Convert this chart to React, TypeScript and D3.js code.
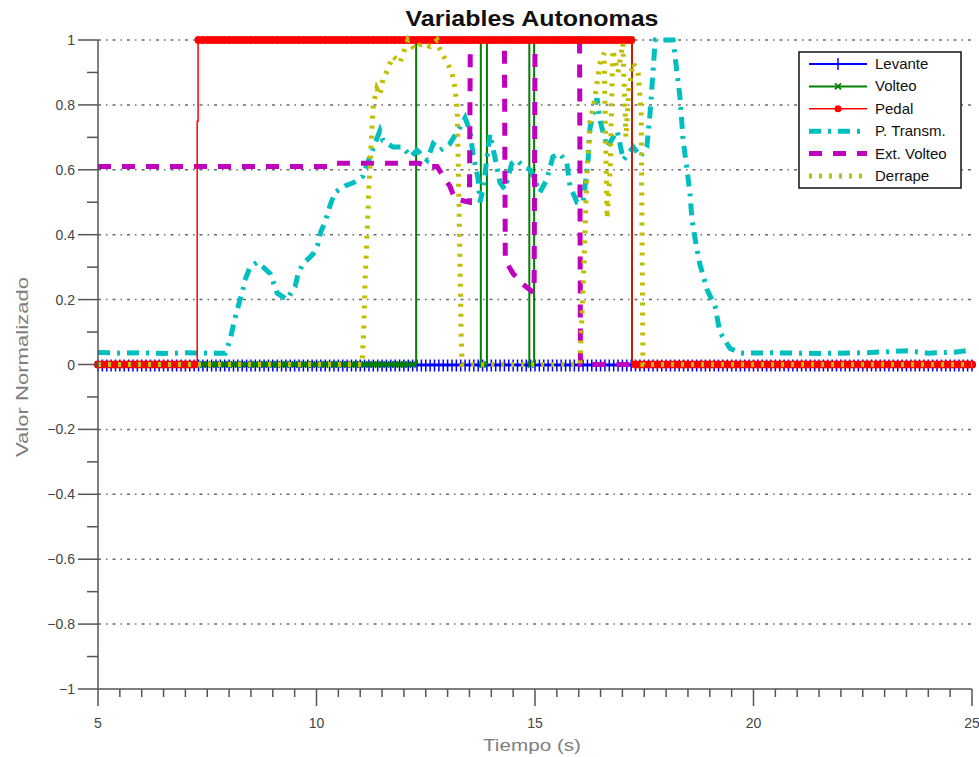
import * as d3 from "d3"
import React, { useRef, useEffect } from 'react';

// legend order = draw order of the original plot
const seriesNames = ["Levante", "Volteo", "Pedal", "P. Transm.", "Ext. Volteo", "Derrape"];
const seriesColors = ["#0000ff", "#008000", "#ff0000", "#00bfbf", "#bf00bf", "#bfbf00"];

// on/off signals: [tiempo, valor], the value holds until the next entry
const levanteSteps: [number, number][] = [[5, 0]];
const volteoSteps: [number, number][] = [[5, 0], [12.28, 1], [13.76, 0], [13.9, 1], [14.87, 0], [14.98, 1], [17.22, 0]];
const pedalSteps: [number, number][] = [[5, 0], [7.27, 0.75], [7.29, 1], [17.22, 0]];

// continuous signals: [tiempo, valor]
const transmData: [number, number][] = [
  [5, 0.037], [5.5, 0.035], [6, 0.036], [6.5, 0.034], [7, 0.036], [7.5, 0.035], [7.91, 0.035],
  [8.02, 0.075], [8.13, 0.14], [8.25, 0.2], [8.3, 0.22], [8.36, 0.26], [8.48, 0.3], [8.64, 0.315],
  [8.78, 0.3], [8.94, 0.28], [9.1, 0.22], [9.32, 0.2], [9.51, 0.24], [9.58, 0.28], [9.69, 0.31],
  [9.92, 0.34], [10.03, 0.37], [10.1, 0.41], [10.2, 0.44], [10.31, 0.49], [10.42, 0.53], [10.65, 0.55],
  [10.84, 0.56], [11.06, 0.58], [11.22, 0.64], [11.45, 0.72], [11.52, 0.69], [11.75, 0.67], [11.98, 0.67],
  [12.15, 0.64], [12.3, 0.66], [12.53, 0.63], [12.67, 0.68], [12.83, 0.66], [13.05, 0.68], [13.28, 0.73],
  [13.4, 0.76], [13.51, 0.72], [13.58, 0.65], [13.7, 0.57], [13.74, 0.5], [13.81, 0.54], [13.97, 0.71],
  [14.08, 0.64], [14.2, 0.56], [14.31, 0.54], [14.47, 0.62], [14.59, 0.63], [14.73, 0.61], [14.89, 0.6],
  [15.05, 0.55], [15.11, 0.53], [15.27, 0.57], [15.41, 0.64], [15.57, 0.65], [15.73, 0.62], [15.8, 0.55],
  [15.96, 0.5], [16.1, 0.5], [16.21, 0.62], [16.26, 0.73], [16.42, 0.82], [16.49, 0.75], [16.65, 0.67],
  [16.88, 0.72], [17.02, 0.63], [17.25, 0.67], [17.41, 0.64], [17.56, 0.67], [17.63, 0.77], [17.7, 0.9],
  [17.75, 1], [18.16, 1], [18.32, 0.82], [18.39, 0.69], [18.48, 0.6], [18.55, 0.52], [18.59, 0.45],
  [18.66, 0.39], [18.77, 0.31], [18.94, 0.23], [19.12, 0.18], [19.23, 0.1], [19.46, 0.05], [19.69, 0.035],
  [20.5, 0.036], [21.5, 0.034], [22.5, 0.036], [23.51, 0.042], [24, 0.035], [24.6, 0.038], [25, 0.045],
];

const extVolteoData: [number, number][] = [
  [5, 0.61], [10.3, 0.61], [10.4, 0.62], [12.35, 0.62], [12.5, 0.61], [12.76, 0.61], [12.9, 0.58],
  [13.05, 0.55], [13.17, 0.51], [13.5, 0.5], [13.52, 1], [14.3, 1], [14.32, 0.32], [14.5, 0.28],
  [14.7, 0.25], [14.98, 0.22], [15.0, 1], [16.02, 1], [16.04, 0], [25, 0],
];

const derrapeData: [number, number][] = [
  [5, 0], [11.04, 0], [11.08, 0.1], [11.11, 0.25], [11.16, 0.41], [11.2, 0.55], [11.25, 0.68],
  [11.3, 0.8], [11.38, 0.85], [11.45, 0.83], [11.52, 0.88], [11.6, 0.9], [11.75, 0.95], [11.91, 0.93],
  [12.09, 1], [12.25, 0.97], [12.41, 0.99], [12.6, 0.98], [12.76, 1], [12.83, 0.97], [12.99, 0.93],
  [13.1, 0.9], [13.17, 0.85], [13.22, 0.79], [13.26, 0.5], [13.31, 0.1], [13.33, 0], [16.03, 0],
  [16.12, 0.3], [16.19, 0.6], [16.26, 0.75], [16.37, 0.82], [16.49, 0.93], [16.58, 0.96], [16.65, 0.45],
  [16.72, 0.6], [16.78, 0.97], [16.9, 0.9], [17.01, 0.99], [17.08, 0.7], [17.15, 0.85], [17.24, 0.93],
  [17.36, 0.9], [17.43, 0.78], [17.47, 0], [25, 0],
];

const xTicks = [5, 10, 15, 20, 25];
const yTicks = [-1, -0.8, -0.6, -0.4, -0.2, 0, 0.2, 0.4, 0.6, 0.8, 1];

const FONT = "'Liberation Sans', Arial, sans-serif";

const App: React.FC = () => {
  const svgRef = useRef<SVGSVGElement | null>(null);

  useEffect(() => {
    const width = 979, height = 757;
    const l = 98, r = 972, t = 40, b = 689;

    const x = d3.scaleLinear().domain([5, 25]).range([l, r]);
    const y = d3.scaleLinear().domain([-1, 1]).range([b, t]);

    const svg = d3.select(svgRef.current).attr('width', width).attr('height', height);
    svg.selectAll('*').remove();
    svg.append('rect').attr('width', width).attr('height', height).attr('fill', '#fff');

    // grid
    svg.append('g').selectAll('line')
      .data(yTicks.filter(v => v > -1))
      .enter().append('line')
      .attr('x1', l).attr('x2', r)
      .attr('y1', d => y(d)).attr('y2', d => y(d))
      .attr('stroke', '#6a6a6a').attr('stroke-width', 1.5)
      .attr('stroke-dasharray', '3,5,1.5,5');

    // marker sample times (0.1 s)
    const sampleT = d3.range(0, 201).map(i => 5 + i * 0.1);
    const stepAt = (steps: [number, number][], tt: number) => {
      let v = steps[0][1];
      for (const s of steps) if (s[0] <= tt + 1e-6) v = s[1];
      return v;
    };
    const stepLine = d3.line<[number, number]>().x(d => x(d[0])).y(d => y(d[1])).curve(d3.curveStepAfter);
    const line = d3.line<[number, number]>().x(d => x(d[0])).y(d => y(d[1]));
    const withEnd = (steps: [number, number][]) => [...steps, [25, steps[steps.length - 1][1]] as [number, number]];

    const plot = svg.append('g');

    // Levante
    plot.append('path').attr('d', stepLine(withEnd(levanteSteps))!)
      .attr('fill', 'none').attr('stroke', seriesColors[0]).attr('stroke-width', 2);
    plot.append('g').selectAll('path').data(sampleT).enter().append('path')
      .attr('d', d => { const px = x(d), py = y(stepAt(levanteSteps, d)) + 1; return `M${px - 4},${py}H${px + 4}M${px},${py - 6}V${py + 6}`; })
      .attr('stroke', seriesColors[0]).attr('stroke-width', 1.5).attr('fill', 'none');

    // Volteo
    plot.append('path').attr('d', stepLine(withEnd(volteoSteps))!)
      .attr('fill', 'none').attr('stroke', seriesColors[1]).attr('stroke-width', 2);
    plot.append('g').selectAll('path').data(sampleT).enter().append('path')
      .attr('d', d => { const px = x(d), py = y(stepAt(volteoSteps, d)); return `M${px - 3},${py - 3}L${px + 3},${py + 3}M${px - 3},${py + 3}L${px + 3},${py - 3}`; })
      .attr('stroke', seriesColors[1]).attr('stroke-width', 1.8).attr('fill', 'none');

    // P. Transm.
    plot.append('path').attr('d', line(transmData)!)
      .attr('fill', 'none').attr('stroke', seriesColors[3]).attr('stroke-width', 5)
      .attr('stroke-dasharray', '12,7,3,7');

    // Ext. Volteo
    plot.append('path').attr('d', line(extVolteoData)!)
      .attr('fill', 'none').attr('stroke', seriesColors[4]).attr('stroke-width', 5)
      .attr('stroke-dasharray', '13,11');

    // Pedal
    plot.append('path').attr('d', stepLine(withEnd(pedalSteps))!)
      .attr('fill', 'none').attr('stroke', seriesColors[2]).attr('stroke-width', 1.5);
    plot.append('g').selectAll('circle').data(sampleT).enter().append('circle')
      .attr('cx', d => x(d)).attr('cy', d => y(stepAt(pedalSteps, d))).attr('r', 4)
      .attr('fill', seriesColors[2]);

    // Derrape
    plot.append('path').attr('d', line(derrapeData)!)
      .attr('fill', 'none').attr('stroke', seriesColors[5]).attr('stroke-width', 5)
      .attr('stroke-dasharray', '3,7');

    // axes
    const axisColor = '#555';
    const ax = svg.append('g');
    ax.append('line').attr('x1', l).attr('x2', l).attr('y1', t).attr('y2', b).attr('stroke', axisColor).attr('stroke-width', 1.5);
    ax.append('line').attr('x1', l).attr('x2', r).attr('y1', b).attr('y2', b).attr('stroke', axisColor).attr('stroke-width', 1.5);
    const yMinor = d3.range(0, 21).map(i => -1 + i * 0.1);
    ax.selectAll('.ytick').data(yMinor).enter().append('line')
      .attr('x1', (d, i) => i % 2 === 0 ? l - 20 : l - 11).attr('x2', l)
      .attr('y1', d => y(d)).attr('y2', d => y(d))
      .attr('stroke', axisColor).attr('stroke-width', 1.5);
    const xMinor = d3.range(0, 41).map(i => 5 + i * 0.5);
    ax.selectAll('.xtick').data(xMinor).enter().append('line')
      .attr('x1', d => x(d)).attr('x2', d => x(d))
      .attr('y1', b).attr('y2', (d, i) => i % 10 === 0 ? b + 17 : b + 8)
      .attr('stroke', axisColor).attr('stroke-width', 1.5);
    ax.selectAll('.ylab').data(yTicks).enter().append('text')
      .attr('x', 75).attr('y', d => y(d) + 5).attr('text-anchor', 'end')
      .attr('font-family', FONT).attr('font-size', 14).attr('fill', '#444')
      .text(d => d3.format('')(d).replace('-', '\u2212'));
    ax.selectAll('.xlab').data(xTicks).enter().append('text')
      .attr('x', d => x(d)).attr('y', 728).attr('text-anchor', 'middle')
      .attr('font-family', FONT).attr('font-size', 14).attr('fill', '#444')
      .text(d => String(d));

    // titles
    svg.append('text').attr('x', 532).attr('y', 26).attr('text-anchor', 'middle')
      .attr('font-family', FONT).attr('font-weight', 'bold').attr('font-size', 22)
      .attr('textLength', 253).attr('lengthAdjust', 'spacingAndGlyphs')
      .attr('fill', '#111').text('Variables Autonomas');
    svg.append('text').attr('x', 532).attr('y', 751).attr('text-anchor', 'middle')
      .attr('font-family', FONT).attr('font-size', 17)
      .attr('textLength', 98).attr('lengthAdjust', 'spacingAndGlyphs')
      .attr('fill', '#808080').text('Tiempo (s)');
    svg.append('text').attr('transform', 'translate(28,367) rotate(-90)').attr('text-anchor', 'middle')
      .attr('font-family', FONT).attr('font-size', 17)
      .attr('textLength', 180).attr('lengthAdjust', 'spacingAndGlyphs')
      .attr('fill', '#808080').text('Valor Normalizado');

    // legend
    const lg = svg.append('g');
    lg.append('rect').attr('x', 799).attr('y', 52).attr('width', 162).attr('height', 136)
      .attr('fill', '#fff').attr('stroke', '#111').attr('stroke-width', 1.5);
    const rowY = (i: number) => 64 + i * 22.4;
    const dashes = [null, null, null, '12,7,3,7', '13,11', '3,7'];
    const widths = [2, 2, 1.5, 5, 5, 5];
    seriesNames.forEach((name, i) => {
      const yy = rowY(i);
      lg.append('line').attr('x1', 809).attr('x2', 867).attr('y1', yy).attr('y2', yy)
        .attr('stroke', seriesColors[i]).attr('stroke-width', widths[i])
        .attr('stroke-dasharray', dashes[i]);
      if (i === 0) lg.append('path').attr('d', `M838,${yy - 6}V${yy + 6}`).attr('stroke', seriesColors[0]).attr('stroke-width', 1.5);
      if (i === 1) lg.append('path').attr('d', `M835,${yy - 3}L841,${yy + 3}M835,${yy + 3}L841,${yy - 3}`).attr('stroke', seriesColors[1]).attr('stroke-width', 1.8);
      if (i === 2) lg.append('circle').attr('cx', 838).attr('cy', yy).attr('r', 3.5).attr('fill', seriesColors[2]);
      lg.append('text').attr('x', 875).attr('y', yy + 5)
        .attr('font-family', FONT).attr('font-size', 15).attr('fill', '#111')
        .text(name);
    });
  }, []);

  return (
    <svg ref={svgRef} style={{ position: 'absolute', left: 0, top: 0 }}></svg>
  );
};

export default App;
